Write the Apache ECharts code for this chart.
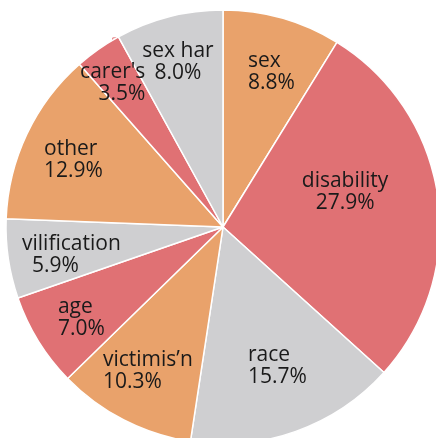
<!DOCTYPE html>
<html><head><meta charset="utf-8">
<script src="https://cdn.jsdelivr.net/npm/echarts@6/dist/echarts.min.js"></script>
<style>html,body{margin:0;padding:0;background:#fff}#c{width:436px;height:438px}</style>
</head><body><div id="c"></div>
<script>
const categories = ["sex", "disability", "race", "victimis\u2019n", "age", "vilification", "other", "carer's", "sex har"];
const values = [8.8, 27.9, 15.7, 10.3, 7.0, 5.9, 12.9, 3.5, 8.0];
// styling (not data): slice colours and label anchors in polar form [angle from top (deg, clockwise), fraction of radius]
const colors = ["#E9A26B", "#E07174", "#CFCFD1", "#E9A26B", "#E07174", "#CFCFD1", "#E9A26B", "#E07174", "#CFCFD1"];
const labelPolar = [[9.05, 0.733], [73.1, 0.588], [169.7, 0.642], [220.2, 0.857], [241.7, 0.864], [262.6, 0.934], [291.1, 0.884], [332.0, 0.762], [344.9, 0.797]];
const labelAlign = ["left", "center", "left", "left", "left", "left", "left", "right", "center"];
const valueIndent = [0, 0, 0, 0, 0, 10, 0, 0, 0];

const CX = 223, CY = 227, R = 217;
const chart = echarts.init(document.getElementById('c'));
chart.setOption({
  animation: false,
  series: [{
    type: 'pie',
    center: [CX, CY],
    radius: [0, R],
    startAngle: 90,
    clockwise: true,
    itemStyle: { borderColor: '#fff', borderWidth: 1.5 },
    label: {
      position: 'inside',
      fontFamily: 'Open Sans',
      fontSize: 21,
      lineHeight: 22,
      color: '#1a1a1a',
      formatter: p => p.name + '\n' + (valueIndent[p.dataIndex] ? '{v|' + p.value.toFixed(1) + '%}' : p.value.toFixed(1) + '%'),
      rich: {
        v: { fontFamily: 'Open Sans', fontSize: 21, lineHeight: 22, color: '#1a1a1a', padding: [0, 0, 0, 10] }
      }
    },
    labelLayout: function (p) {
      const [ang, f] = labelPolar[p.dataIndex];
      const a = ang * Math.PI / 180;
      return { x: CX + Math.sin(a) * f * R, y: CY - Math.cos(a) * f * R + 2, align: labelAlign[p.dataIndex], verticalAlign: 'middle' };
    },
    data: categories.map((c, i) => ({ name: c, value: values[i], itemStyle: { color: colors[i] } }))
  }]
});
</script></body></html>
